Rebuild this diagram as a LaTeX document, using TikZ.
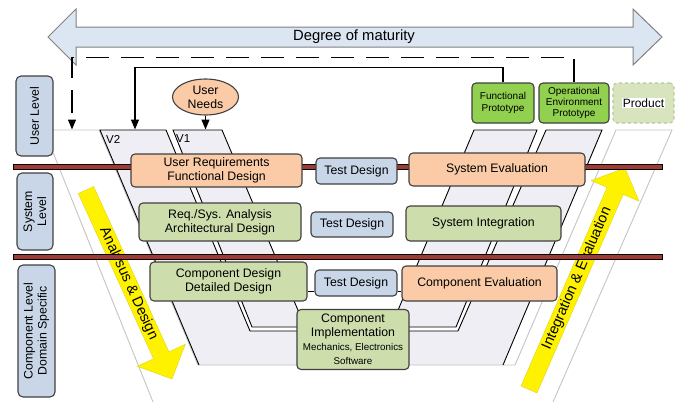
\documentclass[tikz,border=0pt]{standalone}
\usepackage{fontspec}
\setmainfont{Liberation Sans}
\usetikzlibrary{arrows.meta,shapes.geometric}
\definecolor{peach}{HTML}{FACBA6}
\definecolor{sage}{HTML}{CDDDAC}
\definecolor{lvlblue}{HTML}{C8D6E8}
\definecolor{protogreen}{HTML}{92D050}
\definecolor{prodfill}{HTML}{D7E4BD}
\definecolor{prodline}{HTML}{B5C99A}
\definecolor{lav}{HTML}{EFEEF4}
\definecolor{barred}{HTML}{A03A35}
\definecolor{boxline}{HTML}{404040}
\definecolor{bigfill}{HTML}{DCE6F2}
\definecolor{faint}{HTML}{C4C4C4}
\newcommand\fmain{\fontsize{12.3}{14}\selectfont}
\newcommand\fsmall{\fontsize{9.8}{11.3}\selectfont}
\newcommand\fproto{\fontsize{10}{11.3}\selectfont}
\newcommand\fbig{\fontsize{14.8}{17}\selectfont}
\newcommand\farrow{\fontsize{14.5}{17}\selectfont}
\begin{document}
\begin{tikzpicture}[x=1pt,y=-1pt,
  box/.style={draw=boxline, line width=1.1pt, rounded corners=4pt, align=center, inner sep=1pt, font=\fmain},
  lvl/.style={box, fill=lvlblue, rounded corners=5pt},
  proto/.style={box, fill=protogreen, font=\fproto},
  conn/.style={line width=1.3pt, draw=black},
  tip/.style={-{Triangle[length=10pt,width=8pt]}},
  band/.style={fill=lav},
  bandline/.style={draw=black, line width=0.9pt, line join=miter},
  faintline/.style={draw=faint, line width=0.9pt},
  bar/.style={fill=barred, draw=black, line width=0.7pt},
  yarrow/.style={fill=yellow, draw=yellow!85!black, line width=0.4pt}
]
\useasboundingbox (0,0) rectangle (681,402);

% big double arrow
\draw[fill=bigfill, draw=gray, line width=1pt] (48,37) -- (76,9) -- (76,27) -- (633,27) -- (633,9) -- (662,37) -- (633,65) -- (633,47) -- (76,47) -- (76,65) -- cycle;
\node[font=\fbig] (dom) at (354,37) {Degree of maturity};

% V2 band fill
\fill[band] (100,130) -- (199,365) -- (503,365) -- (602,130) -- (546,130) -- (458,331) -- (250,331) -- (166,130) -- cycle;
% V3 faint band
\draw[faintline] (153,402) -- (44,130) -- (99,130) -- (198,365) -- (515,365) -- (616,130) -- (672,130) -- (553,402);
% V2 band lines
\draw[bandline] (199,365) -- (100,130) -- (166,130) -- (250,331) -- (458,331) -- (546,130) -- (602,130) -- (503,365);
% V1 band
\path[band, bandline] (173,130) -- (252,327) -- (456,327) -- (537,130) -- (474,130) -- (396,315) -- (300,315) -- (222,130) -- cycle;

\node[anchor=west, font=\fontsize{11.5}{13}\selectfont, inner sep=0pt] (v2lab) at (106,139) {V2};
\node[anchor=west, font=\fontsize{11.5}{13}\selectfont, inner sep=0pt] (v1lab) at (176,139) {V1};

% yellow arrows
\draw[yarrow] (78.3,193.5) -- (153.5,358.8) -- (137.1,366.3) -- (172,379) -- (185.3,344.3) -- (168.9,351.8) -- (93.7,186.5) -- cycle;
\draw[yarrow] (521,386) -- (607.1,187.4) -- (591.2,180.6) -- (625,168) -- (639,201.2) -- (623.1,194.4) -- (537,393) -- cycle;
\node[rotate=-65.5, font=\farrow, inner sep=0pt] (ad) at (128.6,283.7) {Analysus \& Design};
\node[rotate=66.6, font=\farrow, inner sep=0pt] (ie) at (577.1,278.5) {Integration \& Evaluation};

% red bars
\draw[bar] (13,164.5) rectangle (662,169.5);
\draw[bar] (13,254.5) rectangle (662,259.5);

% level labels
\node[lvl, rotate=90, minimum width=80pt, minimum height=37pt] (ul) at (34.5,116) {User Level};
\node[lvl, rotate=90, minimum width=77pt, minimum height=36pt] (sl) at (35,211.5) {System\\Level};
\node[lvl, rotate=90, minimum width=132pt, minimum height=37pt] (cl) at (36.5,331) {Component Level\\Domain Specific};

% main boxes
\node[box, fill=peach, minimum width=171pt, minimum height=33pt] (ureq) at (216.5,170.5) {User Requirements\\Functional Design};
\node[box, fill=lvlblue, minimum width=81pt, minimum height=26pt] (td1) at (356.5,171) {Test Design};
\node[box, fill=peach, minimum width=176pt, minimum height=33pt] (seval) at (497,169.5) {System Evaluation};
\node[box, fill=sage, minimum width=162pt, minimum height=38pt] (rsa) at (220,222) {Req./Sys. Analysis\\Architectural Design};
\node[box, fill=lvlblue, minimum width=82pt, minimum height=25pt] (td2) at (352,224.5) {Test Design};
\node[box, fill=sage, minimum width=155pt, minimum height=35pt] (sint) at (483.5,223.5) {System Integration};
\node[box, fill=sage, minimum width=157pt, minimum height=39pt] (cdd) at (228.5,281.5) {Component Design\\Detailed Design};
\node[box, fill=lvlblue, minimum width=82pt, minimum height=26pt] (td3) at (356,283) {Test Design};
\node[box, fill=peach, minimum width=155pt, minimum height=35pt] (ceval) at (479.5,283.5) {Component Evaluation};
\node[box, fill=sage, minimum width=112pt, minimum height=60pt] (cimpl) at (353,339.5) {Component\\Implementation\\{\fsmall Mechanics, Electronics}\\{\fsmall Software}};

\coordinate (c3) at ([yshift=-9.5pt]cdd.east);
\draw[conn, line width=1pt] (c3) -- (c3 -| td3.west);
\draw[conn, line width=1pt] (c3 -| td3.east) -- (c3 -| ceval.west);

% prototypes
\node[proto, minimum width=62pt, minimum height=40pt] (fproto) at (503,103) {Functional\\Prototype};
\node[proto, minimum width=70pt, minimum height=40pt] (oproto) at (574,103) {Operational\\Environment\\Prototype};
\node[box, fill=prodfill, draw=prodline, dashed, minimum width=61pt, minimum height=40pt, font=\fontsize{12}{14}\selectfont] (prod) at (643.5,103) {\setlength\fboxsep{1pt}\colorbox{white}{Product}};

% user needs
\node[ellipse, draw=boxline, line width=1.1pt, fill=peach, minimum width=66pt, minimum height=36pt, inner sep=0pt, align=center, font=\fmain] (un) at (205.5,97) {User\\Needs};

% connectors
\coordinate (v1top) at (205.5,129.5);
\coordinate (v2top) at (135,129.5);
\coordinate (v3top) at (72,129.5);
\draw[conn, tip] (un.south) -- (v1top);
\draw[conn, tip] (fproto.north) -- ++(0,-15) -| (v2top);
\draw[conn, tip, dash pattern=on 23pt off 12pt] (oproto.north) -- ++(0,-25) -| (v3top);
\end{tikzpicture}
\end{document}
